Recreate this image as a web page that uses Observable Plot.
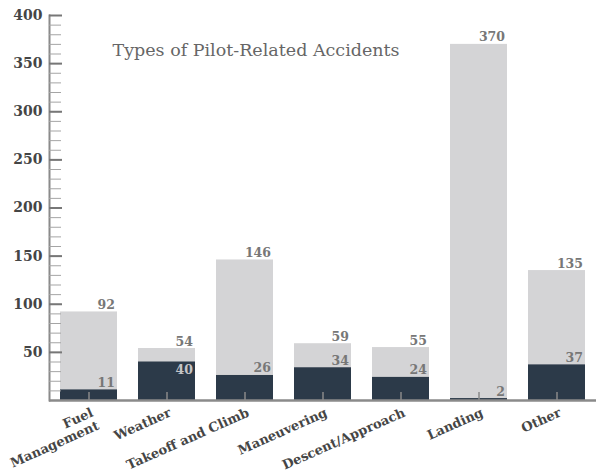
<!DOCTYPE html>
<html>
<head>
<meta charset="utf-8">
<script src="https://cdn.jsdelivr.net/npm/d3@7"></script>
<script src="https://cdn.jsdelivr.net/npm/@observablehq/plot@0.6"></script>
<style>
  html, body { margin: 0; padding: 0; background: #fff; }
</style>
</head>
<body>
<div id="chart"></div>
<script>
const categories = ["Fuel Management", "Weather", "Takeoff and Climb", "Maneuvering", "Descent/Approach", "Landing", "Other"];
const tickLabels = ["Fuel\nManagement", "Weather", "Takeoff and Climb", "Maneuvering", "Descent/Approach", "Landing", "Other"];
const totalAccidents = [92, 54, 146, 59, 55, 370, 135];
const pilotRelated = [11, 40, 26, 34, 24, 2, 37];
const yMajorTicks = [50, 100, 150, 200, 250, 300, 350, 400];
const yMinorTicks = d3.range(10, 400, 10);
const title = "Types of Pilot-Related Accidents";

const data = categories.map((c, i) => ({
  category: c,
  label: tickLabels[i],
  total: totalAccidents[i],
  pilot: pilotRelated[i]
}));
// a pilot label that would collide with the total label goes inside the dark bar
const crowded = d => d.total - d.pilot < 20;

const chart = Plot.plot({
  width: 596,
  height: 475,
  marginLeft: 49,
  marginRight: 0,
  marginTop: 15,
  marginBottom: 75,
  style: { fontFamily: "'DejaVu Serif', serif", background: "#fff" },
  x: { domain: categories, paddingInner: 0.274, paddingOuter: 0.127 },
  y: { domain: [0, 400] },
  marks: [
    Plot.barY(data, { x: "category", y: "total", fill: "#d4d4d6" }),
    Plot.barY(data, { x: "category", y: "pilot", fill: "#2c3a49" }),
    Plot.axisX({ tickSize: -8, fill: "none", stroke: "#8a8a8a", strokeWidth: 1.5, label: null }),
    Plot.ruleY([0], { stroke: "#8a8a8a", strokeWidth: 2.5 }),
    Plot.frame({ anchor: "left", stroke: "#8a8a8a", strokeWidth: 2 }),
    Plot.axisY({ ticks: yMinorTicks, tickSize: -12, fill: "none", stroke: "#a5a5a5", strokeWidth: 1, label: null }),
    Plot.axisY({ ticks: yMajorTicks, tickSize: -13, fill: "none", stroke: "#777", strokeWidth: 2, label: null }),
    Plot.axisY({ ticks: yMajorTicks, tickSize: 0, tickPadding: 7, fill: "#454545", fontWeight: "bold", fontSize: 14, label: null }),
    Plot.text(data, { x: "category", y: "total", text: d => String(d.total), textAnchor: "end", lineAnchor: "bottom", dx: 26, dy: -3, fontSize: 12.5, fontWeight: "bold", fill: "#777" }),
    Plot.text(data.filter(d => !crowded(d)), { x: "category", y: "pilot", text: d => String(d.pilot), textAnchor: "end", lineAnchor: "bottom", dx: 26, dy: -3, fontSize: 12.5, fontWeight: "bold", fill: "#777" }),
    Plot.text(data.filter(crowded), { x: "category", y: "pilot", text: d => String(d.pilot), textAnchor: "end", lineAnchor: "top", dx: 26, dy: 3, fontSize: 12.5, fontWeight: "bold", fill: "#c4c4c6" }),
    Plot.text(data, { x: "category", text: "label", frameAnchor: "bottom", textAnchor: "end", lineAnchor: "top", rotate: -24, dx: 1, dy: 6, fontSize: 13, fontWeight: "bold", fill: "#454545", lineHeight: 1.1 }),
    Plot.text([title], { frameAnchor: "top-left", dx: 63, dy: 28, textAnchor: "start", lineAnchor: "top", fontSize: 17.5, fill: "#666" })
  ]
});
document.getElementById("chart").appendChild(chart);
</script>
</body>
</html>
